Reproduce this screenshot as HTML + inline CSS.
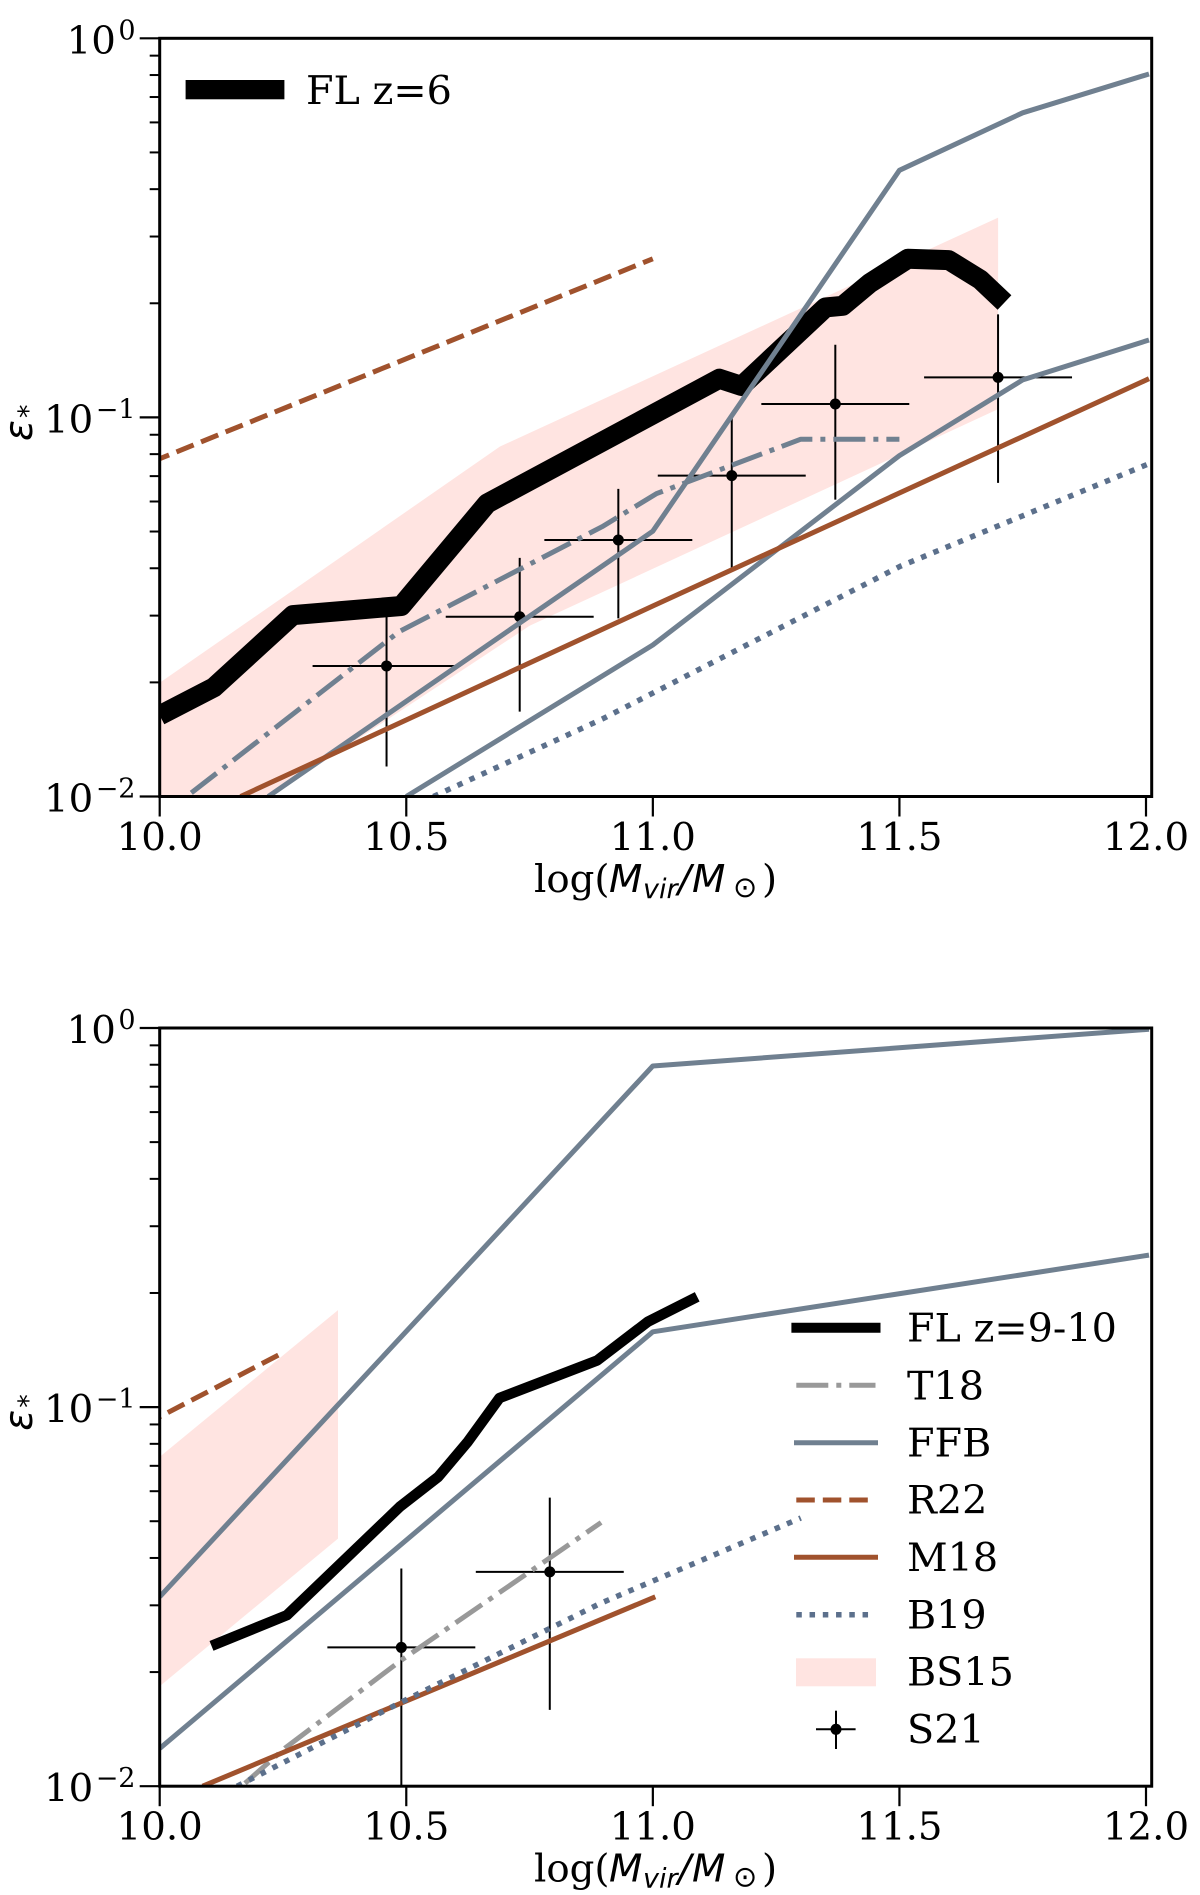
<!DOCTYPE html>
<html lang="en">
<head>
<meta charset="utf-8">
<title>Star formation efficiency versus halo mass</title>
<style>
html,body{margin:0;padding:0;background:#fff;}
svg{display:block;}
text{fill:#000;}
.serif{font-family:"DejaVu Serif","Liberation Serif",serif;font-size:38.7px;}
.leg{font-family:"DejaVu Serif","Liberation Serif",serif;font-size:39.7px;}
.math{font-family:"DejaVu Sans","Liberation Sans",sans-serif;font-style:italic;font-size:38.7px;}
.mathsub{font-family:"DejaVu Sans","Liberation Sans",sans-serif;font-style:italic;font-size:27px;}
.sym{font-family:"DejaVu Sans","Liberation Sans",sans-serif;font-size:29px;}
</style>
</head>
<body>
<svg id="figure" xmlns="http://www.w3.org/2000/svg" width="1200" height="1895" viewBox="0 0 1200 1895">
  <defs>
    <clipPath id="clip-top"><rect x="159.7" y="38.3" width="992" height="758.4"/></clipPath>
    <clipPath id="clip-bottom"><rect x="159.7" y="1028" width="992" height="758"/></clipPath>
  </defs>
  <g id="panel-top"></g>
  <g id="panel-bottom"></g>

  <g>
    <text class="serif" x="534" y="892">log(</text>
    <text class="math" x="609" y="892">M</text>
    <text class="mathsub" x="643" y="898">vir</text>
    <text class="math" x="678" y="892">/</text>
    <text class="math" x="692" y="892">M</text>
    <text class="sym" x="733" y="897">⊙</text>
    <text class="serif" x="762" y="892">)</text>
  </g>
  <g transform="translate(0,989.7)">
    <text class="serif" x="534" y="892">log(</text>
    <text class="math" x="609" y="892">M</text>
    <text class="mathsub" x="643" y="898">vir</text>
    <text class="math" x="678" y="892">/</text>
    <text class="math" x="692" y="892">M</text>
    <text class="sym" x="733" y="897">⊙</text>
    <text class="serif" x="762" y="892">)</text>
  </g>
  <g>
    <text class="math" transform="translate(32,441) rotate(-90)">ε</text>
    <text class="mathsub" transform="translate(37,418) rotate(-90)">*</text>
  </g>
  <g transform="translate(0,989.7)">
    <text class="math" transform="translate(32,441) rotate(-90)">ε</text>
    <text class="mathsub" transform="translate(37,418) rotate(-90)">*</text>
  </g>

  <g>
    <rect x="185.6" y="80" width="98.8" height="19.3" fill="#000"/>
    <text class="leg" x="306" y="104">FL z=6</text>
  </g>
  <g>
    <line x1="791.4" x2="880.5" y1="1327.7" y2="1327.7" stroke="#000" stroke-width="10"/>
    <text class="leg" x="907" y="1341.7">FL z=9-10</text>
    <line x1="796.3" x2="875.5" y1="1385.3" y2="1385.3" stroke="#999999" stroke-width="5" stroke-dasharray="32 8 5 8"/>
    <text class="leg" x="907" y="1399.3">T18</text>
    <line x1="794" x2="878" y1="1442.7" y2="1442.7" stroke="#708090" stroke-width="5"/>
    <text class="leg" x="907" y="1456.3">FFB</text>
    <line x1="796.3" x2="875.5" y1="1500" y2="1500" stroke="#a0522d" stroke-width="5" stroke-dasharray="18.5 8"/>
    <text class="leg" x="907" y="1513.5">R22</text>
    <line x1="794" x2="878" y1="1557.3" y2="1557.3" stroke="#a0522d" stroke-width="5"/>
    <text class="leg" x="907" y="1570.8">M18</text>
    <line x1="796.3" x2="875.5" y1="1614.7" y2="1614.7" stroke="#5c708c" stroke-width="5.5" stroke-dasharray="5.5 7.75"/>
    <text class="leg" x="907" y="1628.3">B19</text>
    <rect x="796" y="1658.3" width="80" height="28" fill="#ffe4e1"/>
    <text class="leg" x="907" y="1685.7">BS15</text>
    <g>
      <line x1="816" x2="855.6" y1="1729.3" y2="1729.3" stroke="#000" stroke-width="2"/>
      <line x1="836" x2="836" y1="1710.7" y2="1749" stroke="#000" stroke-width="2"/>
      <circle cx="836" cy="1729.3" r="5.5" fill="#000"/>
    </g>
    <text class="leg" x="907" y="1742.8">S21</text>
  </g>
</svg>

<script>
// ---- shared axis labels ----
const xTickValues = [10, 10.5, 11, 11.5, 12];
const xTickLabels = ["10.0", "10.5", "11.0", "11.5", "12.0"];
const yDecades = [1, 0.1, 0.01];
const yDecadeExponents = ["0", "\u22121", "\u22122"];
const yMinorMultipliers = [2, 3, 4, 5, 6, 7, 8, 9];

// ---- top panel (FL z=6) ----
const topFlX = [10.0, 10.11, 10.27, 10.49, 10.664, 11.135, 11.18, 11.35, 11.385, 11.44, 11.517, 11.60, 11.664, 11.713];
const topFlY = [0.01637, 0.0194, 0.0301, 0.0318, 0.0593, 0.1265, 0.121, 0.195, 0.197, 0.226, 0.262, 0.260, 0.231, 0.201];
const topBandUpperX = [10.0, 10.69, 11.70];
const topBandUpperY = [0.01995, 0.0838, 0.3366];
const topBandLowerX = [10.0, 10.225, 10.75, 11.70];
const topBandLowerY = [0.01, 0.01, 0.0282, 0.1052];
const topT18X = [10.064, 10.485, 10.897, 11.007, 11.30, 11.50];
const topT18Y = [0.01022, 0.0272, 0.0515, 0.0629, 0.0876, 0.0876];
const topFfbHighX = [10.22, 11.0, 11.5, 11.75, 12.006];
const topFfbHighY = [0.01, 0.0501, 0.4485, 0.636, 0.805];
const topFfbLowX = [10.5, 11.0, 11.5, 11.75, 12.006];
const topFfbLowY = [0.01, 0.0251, 0.0793, 0.1256, 0.16];
const topR22X = [10.0, 11.0];
const topR22Y = [0.0778, 0.262];
const topM18X = [10.164, 11.0, 12.006];
const topM18Y = [0.01, 0.0318, 0.1265];
const topB19X = [10.555, 10.897, 11.502, 12.006];
const topB19Y = [0.01, 0.016, 0.0405, 0.0755];
const topS21X = [10.46, 10.73, 10.93, 11.16, 11.37, 11.70];
const topS21Y = [0.0221, 0.0298, 0.0475, 0.0702, 0.1085, 0.1275];
const topS21Low = [0.012, 0.01674, 0.0295, 0.0402, 0.0607, 0.0672];
const topS21High = [0.0299, 0.0426, 0.0648, 0.1007, 0.1555, 0.187];
const topS21XErr = [0.15, 0.15, 0.15, 0.15, 0.15, 0.15];

// ---- bottom panel (FL z=9-10) ----
const botFlX = [10.105, 10.258, 10.487, 10.565, 10.625, 10.689, 10.887, 10.99, 11.09];
const botFlY = [0.02344, 0.02825, 0.0546, 0.0655, 0.0811, 0.1057, 0.1327, 0.168, 0.1954];
const botBandUpperX = [10.0, 10.3615];
const botBandUpperY = [0.0739, 0.1803];
const botBandLowerX = [10.0, 10.3615];
const botBandLowerY = [0.01836, 0.045];
const botT18X = [10.173, 10.254, 10.49, 10.895];
const botT18Y = [0.01018, 0.0126, 0.0215, 0.0496];
const botFfbHighX = [10.0, 11.0, 12.006];
const botFfbHighY = [0.0316, 0.794, 0.992];
const botFfbLowX = [10.0, 11.0, 12.006];
const botFfbLowY = [0.01257, 0.158, 0.2518];
const botR22X = [10.0, 10.241];
const botR22Y = [0.0943, 0.1372];
const botM18X = [10.087, 11.005];
const botM18Y = [0.01, 0.0316];
const botB19X = [10.157, 10.491, 10.893, 11.30];
const botB19Y = [0.01, 0.01669, 0.03034, 0.051];
const botS21X = [10.49, 10.791];
const botS21Y = [0.02323, 0.03675];
const botS21Low = [0.0095, 0.0159];
const botS21High = [0.03753, 0.0577];
const botS21XErr = [0.15, 0.15];

const NS = "http://www.w3.org/2000/svg";
const PLOT_LEFT = 159.7, PLOT_RIGHT = 1151.7, X_UNIT = 493.15, Y_DECADE = 379.1;
const COL_SLATE = "#708090", COL_SIENNA = "#a0522d", COL_BLUE = "#5c708c", COL_PINK = "#ffe4e1", COL_GREY = "#999999";

function mk(parent, tag, attrs) {
  const el = document.createElementNS(NS, tag);
  for (const k in attrs) el.setAttribute(k, attrs[k]);
  parent.appendChild(el);
  return el;
}
function xScale(v) { return PLOT_LEFT + (v - 10) * X_UNIT; }

function drawPanel(g, key, top, clipId, s) {
  const bottom = top + 2 * Y_DECADE;
  const yScale = function (v) { return top - Math.log10(v) * Y_DECADE; };
  const plot = mk(g, "g", { "clip-path": "url(#" + clipId + ")" });
  
  

  // band
  const pts = [];
  s.bandUX.forEach(function (x, i) { pts.push(xScale(x).toFixed(1) + "," + yScale(s.bandUY[i]).toFixed(1)); });
  for (let i = s.bandLX.length - 1; i >= 0; i--) pts.push(xScale(s.bandLX[i]).toFixed(1) + "," + yScale(s.bandLY[i]).toFixed(1));
  const band = mk(plot, "polygon", { points: pts.join(" "), fill: COL_PINK });
  
  

  // S21 error bars
  s.sx.forEach(function (x, i) {
    const pt = mk(plot, "g", {});
    
    
    const cx = xScale(x), cy = yScale(s.sy[i]);
    mk(pt, "line", { x1: xScale(x - s.sxe[i]), x2: xScale(x + s.sxe[i]), y1: cy, y2: cy, stroke: "#000", "stroke-width": 2 });
    mk(pt, "line", { x1: cx, x2: cx, y1: yScale(s.slo[i]), y2: yScale(s.shi[i]), stroke: "#000", "stroke-width": 2 });
    mk(pt, "circle", { cx: cx, cy: cy, r: 5.5, fill: "#000" });
  });

  function series(name, xs, ys, color, width, dash, phase) {
    const d = xs.map(function (x, i) { return (i ? "L" : "M") + xScale(x).toFixed(1) + " " + yScale(ys[i]).toFixed(1); }).join(" ");
    const p = mk(plot, "path", { d: d, fill: "none", stroke: color, "stroke-width": width, "stroke-linejoin": "round", "stroke-linecap": "butt" });
    if (dash) p.setAttribute("stroke-dasharray", dash);
    if (phase) p.setAttribute("stroke-dashoffset", phase);
    
    
  }
  series("fl-line", s.flX, s.flY, "#000", s.flWidth);
  series("t18-line", s.t18X, s.t18Y, s.t18Color, 5, "32 8 5 8");
  series("ffb-high-line", s.ffbHX, s.ffbHY, COL_SLATE, 5);
  series("ffb-low-line", s.ffbLX, s.ffbLY, COL_SLATE, 5);
  series("r22-line", s.r22X, s.r22Y, COL_SIENNA, 5, "18.5 8", s.r22Phase);
  series("m18-line", s.m18X, s.m18Y, COL_SIENNA, 5);
  series("b19-line", s.b19X, s.b19Y, COL_BLUE, 5.5, "5.5 7.75");

  // spines
  const frame = mk(g, "rect", { x: PLOT_LEFT, y: top, width: PLOT_RIGHT - PLOT_LEFT, height: bottom - top, fill: "none", stroke: "#000", "stroke-width": 3 });
  
  

  // x ticks
  xTickValues.forEach(function (v, i) {
    const t = mk(g, "line", { x1: xScale(v), x2: xScale(v), y1: bottom, y2: bottom + 20, stroke: "#000", "stroke-width": 2.2 });
    
    
    const lab = mk(g, "text", { x: xScale(v), y: bottom + 53.3, "text-anchor": "middle", "class": "serif" });
    lab.textContent = xTickLabels[i];
    
    
  });

  // y ticks
  yDecades.forEach(function (v, i) {
    const y = yScale(v);
    const t = mk(g, "line", { x1: PLOT_LEFT - 20, x2: PLOT_LEFT, y1: y, y2: y, stroke: "#000", "stroke-width": 2.2 });
    
    
    const lab = mk(g, "text", { x: 135.5, y: y + 15, "text-anchor": "end", "class": "serif" });
    lab.appendChild(document.createTextNode("10"));
    const sup = mk(lab, "tspan", { dy: -14, dx: 2.5, "font-size": 27 });
    sup.textContent = yDecadeExponents[i];
    
    
    if (i < yDecades.length - 1) {
      yMinorMultipliers.forEach(function (m) {
        const my = yScale(yDecades[i + 1] * m);
        const mt = mk(g, "line", { x1: PLOT_LEFT - 10, x2: PLOT_LEFT, y1: my, y2: my, stroke: "#000", "stroke-width": 2 });
        
        
      });
    }
  });
}

drawPanel(document.getElementById("panel-top"), "top", 38.3, "clip-top", {
  flX: topFlX, flY: topFlY, flWidth: 20, t18X: topT18X, t18Y: topT18Y, t18Color: COL_SLATE,
  bandUX: topBandUpperX, bandUY: topBandUpperY, bandLX: topBandLowerX, bandLY: topBandLowerY,
  ffbHX: topFfbHighX, ffbHY: topFfbHighY, ffbLX: topFfbLowX, ffbLY: topFfbLowY,
  r22X: topR22X, r22Y: topR22Y, r22Phase: 8.4, m18X: topM18X, m18Y: topM18Y, b19X: topB19X, b19Y: topB19Y,
  sx: topS21X, sy: topS21Y, slo: topS21Low, shi: topS21High, sxe: topS21XErr
});
drawPanel(document.getElementById("panel-bottom"), "bottom", 1028, "clip-bottom", {
  flX: botFlX, flY: botFlY, flWidth: 10.5, t18X: botT18X, t18Y: botT18Y, t18Color: COL_GREY,
  bandUX: botBandUpperX, bandUY: botBandUpperY, bandLX: botBandLowerX, bandLY: botBandLowerY,
  ffbHX: botFfbHighX, ffbHY: botFfbHighY, ffbLX: botFfbLowX, ffbLY: botFfbLowY,
  r22X: botR22X, r22Y: botR22Y, r22Phase: 17.3, m18X: botM18X, m18Y: botM18Y, b19X: botB19X, b19Y: botB19Y,
  sx: botS21X, sy: botS21Y, slo: botS21Low, shi: botS21High, sxe: botS21XErr
});
</script>
</body>
</html>
